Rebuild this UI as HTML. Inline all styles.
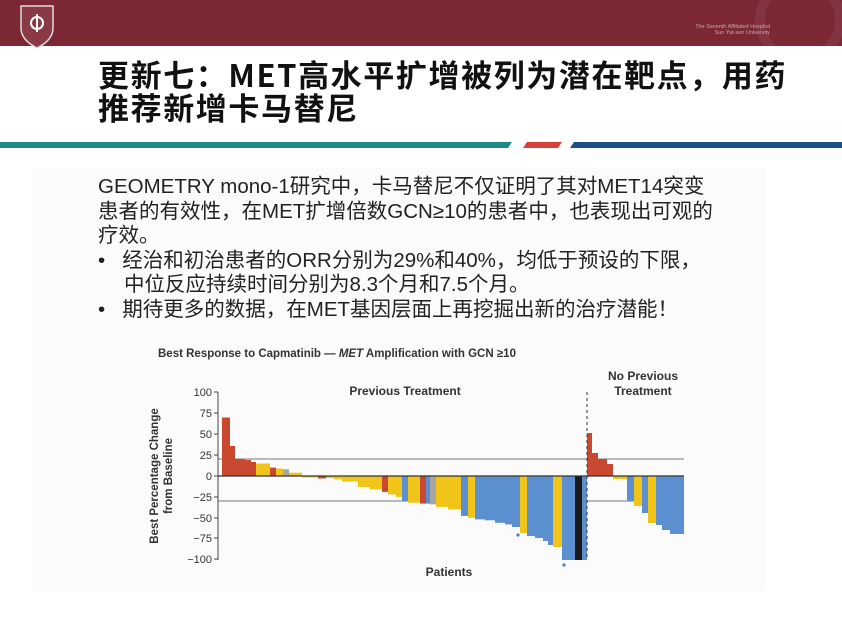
<!DOCTYPE html>
<html><head><meta charset="utf-8"><style>
body{margin:0;width:842px;height:630px;overflow:hidden;background:#fff;position:relative;font-family:"Liberation Sans","Noto Sans CJK SC",sans-serif}
.hdr{position:absolute;left:0;top:0;width:842px;height:46px;background:#7b2834}
.t{position:absolute;left:98px;font-weight:bold;font-size:31px;line-height:36px;color:#111;font-family:"Noto Sans CJK SC","WenQuanYi Zen Hei",sans-serif;white-space:nowrap;letter-spacing:1.6px}
.b{position:absolute;font-size:20.5px;line-height:24px;color:#222;white-space:nowrap;font-family:"Liberation Sans","Noto Sans CJK SC",sans-serif}
</style></head><body>
<div class="hdr"></div>
<svg style="position:absolute;left:0;top:0" width="842" height="160">
<defs><clipPath id="c"><rect x="0" y="0" width="842" height="46"/></clipPath></defs>
<path d="M21 6 h32 v22 q0 12 -16 20 q-16 -8 -16 -20z" fill="#8a3a44" stroke="#ddd" stroke-width="1.5"/>
<circle cx="37" cy="23" r="6" fill="none" stroke="#fff" stroke-width="2"/><line x1="37" y1="14" x2="37" y2="32" stroke="#fff" stroke-width="2"/>
<g clip-path="url(#c)"><circle cx="800" cy="20" r="40" fill="none" stroke="#843340" stroke-width="10"/></g>
<text x="770" y="28" text-anchor="end" font-size="5.5" fill="#c9a5aa" font-family="Liberation Sans">The Seventh Affiliated Hospital</text>
<text x="770" y="34" text-anchor="end" font-size="5.5" fill="#c9a5aa" font-family="Liberation Sans">Sun Yat-sen University</text>
<polygon points="0,142 512,142 508,148 0,148" fill="#1f8a8a"/>
<polygon points="527,142 562,142 558,148 523,148" fill="#d8403b"/>
<polygon points="574,142 842,142 842,148 570,148" fill="#1d4f82"/>
</svg>
<div class="t" style="top:56px">更新七：MET高水平扩增被列为潜在靶点，用药</div>
<div class="t" style="top:89px">推荐新增卡马替尼</div>
<div style="position:absolute;left:32px;top:168px;width:733px;height:423px;background:#fbfbfb"></div>
<div class="b" style="left:98px;top:175px">GEOMETRY mono-1研究中，卡马替尼不仅证明了其对MET14突变</div>
<div class="b" style="left:98px;top:200px">患者的有效性，在MET扩增倍数GCN≥10的患者中，也表现出可观的</div>
<div class="b" style="left:98px;top:224px">疗效。</div>
<div class="b" style="left:98px;top:249px">•&nbsp;&nbsp;&nbsp;经治和初治患者的ORR分别为29%和40%，均低于预设的下限，</div>
<div class="b" style="left:124px;top:273px">中位反应持续时间分别为8.3个月和7.5个月。</div>
<div class="b" style="left:98px;top:298px">•&nbsp;&nbsp;&nbsp;期待更多的数据，在MET基因层面上再挖掘出新的治疗潜能！</div>
<svg style="position:absolute;left:0;top:0" width="842" height="630" font-family="Liberation Sans" >
<text x="158" y="357" font-size="11.5" font-weight="bold" fill="#333">Best Response to Capmatinib — <tspan font-style="italic">MET</tspan> Amplification with GCN ≥10</text>
<text x="405" y="395" text-anchor="middle" font-size="12" font-weight="bold" fill="#333">Previous Treatment</text>
<text x="643" y="380" text-anchor="middle" font-size="12" font-weight="bold" fill="#333">No Previous</text>
<text x="643" y="395" text-anchor="middle" font-size="12" font-weight="bold" fill="#333">Treatment</text>
<text x="449" y="576" text-anchor="middle" font-size="12" font-weight="bold" fill="#333">Patients</text>
<text transform="translate(158,476) rotate(-90)" text-anchor="middle" font-size="11.5" font-weight="bold" fill="#333">Best Percentage Change</text>
<text transform="translate(172,476) rotate(-90)" text-anchor="middle" font-size="11.5" font-weight="bold" fill="#333">from Baseline</text>
<g font-size="11" fill="#333" text-anchor="end">
<text x="212" y="396">100</text><text x="212" y="417">75</text><text x="212" y="438">50</text><text x="212" y="459">25</text><text x="212" y="480">0</text><text x="212" y="501">−25</text><text x="212" y="522">−50</text><text x="212" y="542">−75</text><text x="212" y="563">−100</text>
</g>
<g stroke="#444" stroke-width="1">
<line x1="218" y1="392" x2="218" y2="560"/>
<line x1="214" y1="392" x2="218" y2="392"/><line x1="214" y1="413" x2="218" y2="413"/><line x1="214" y1="434" x2="218" y2="434"/><line x1="214" y1="455" x2="218" y2="455"/><line x1="214" y1="476" x2="218" y2="476"/><line x1="214" y1="497" x2="218" y2="497"/><line x1="214" y1="518" x2="218" y2="518"/><line x1="214" y1="538" x2="218" y2="538"/><line x1="214" y1="559" x2="218" y2="559"/>
</g>
<g stroke="#777" stroke-width="1"><line x1="218" y1="459" x2="684" y2="459"/><line x1="218" y1="501" x2="684" y2="501"/></g>
<g>
<rect x="222" y="417.5" width="8" height="58.5" fill="#c8492f"/>
<rect x="230" y="446" width="5" height="30" fill="#c8492f"/>
<rect x="235" y="459.3" width="10" height="16.7" fill="#c8492f"/>
<rect x="245" y="460" width="6" height="16" fill="#c8492f"/>
<rect x="251" y="462" width="5" height="14" fill="#c8492f"/>
<rect x="256" y="463.5" width="14" height="12.5" fill="#f1c41a"/>
<rect x="270" y="467.6" width="6" height="8.4" fill="#c8492f"/>
<rect x="276" y="468.5" width="7" height="7.5" fill="#f1c41a"/>
<rect x="283" y="469.3" width="6" height="6.7" fill="#a6a6a6"/>
<rect x="289" y="472.7" width="13" height="3.3" fill="#f1c41a"/>
<rect x="302" y="476" width="16" height="1.5" fill="#f1c41a"/>
<rect x="318" y="476" width="8" height="2.5" fill="#c8492f"/>
<rect x="326" y="476" width="8" height="2" fill="#f1c41a"/>
<rect x="334" y="476" width="8" height="3.4" fill="#f1c41a"/>
<rect x="342" y="476" width="16" height="5.5" fill="#f1c41a"/>
<rect x="358" y="476" width="12" height="11" fill="#f1c41a"/>
<rect x="370" y="476" width="12" height="13.4" fill="#f1c41a"/>
<rect x="382" y="476" width="6" height="15.9" fill="#c8492f"/>
<rect x="388" y="476" width="8" height="18.4" fill="#f1c41a"/>
<rect x="396" y="476" width="6" height="20.9" fill="#f1c41a"/>
<rect x="402" y="476" width="6" height="25" fill="#5b8fd0"/>
<rect x="408" y="476" width="12" height="26.7" fill="#f1c41a"/>
<rect x="420" y="476" width="6" height="27.6" fill="#c8492f"/>
<rect x="426" y="476" width="4" height="27.6" fill="#5b8fd0"/>
<rect x="430" y="476" width="6" height="28.4" fill="#a6a6a6"/>
<rect x="436" y="476" width="12" height="30.9" fill="#f1c41a"/>
<rect x="448" y="476" width="13" height="33.4" fill="#f1c41a"/>
<rect x="461" y="476" width="7" height="40" fill="#5b8fd0"/>
<rect x="468" y="476" width="7" height="41.8" fill="#f1c41a"/>
<rect x="475" y="476" width="10" height="43.4" fill="#5b8fd0"/>
<rect x="485" y="476" width="10" height="44.3" fill="#5b8fd0"/>
<rect x="495" y="476" width="10" height="46.8" fill="#5b8fd0"/>
<rect x="505" y="476" width="7" height="48.4" fill="#5b8fd0"/>
<rect x="512" y="476" width="8" height="51" fill="#5b8fd0"/>
<rect x="520" y="476" width="7" height="57" fill="#f1c41a"/>
<rect x="527" y="476" width="8" height="60" fill="#5b8fd0"/>
<rect x="535" y="476" width="8" height="62" fill="#5b8fd0"/>
<rect x="543" y="476" width="5" height="65" fill="#5b8fd0"/>
<rect x="548" y="476" width="5" height="69" fill="#5b8fd0"/>
<rect x="553" y="476" width="9" height="71" fill="#f1c41a"/>
<rect x="562" y="476" width="13" height="84" fill="#5b8fd0"/>
<rect x="575" y="476" width="7" height="84" fill="#1a1a1a"/>
<rect x="582" y="476" width="5" height="84" fill="#5b8fd0"/>
<rect x="587" y="433" width="5" height="43" fill="#c8492f"/>
<rect x="592" y="453" width="6" height="23" fill="#c8492f"/>
<rect x="598" y="459" width="9" height="17" fill="#c8492f"/>
<rect x="607" y="464" width="6" height="12" fill="#c8492f"/>
<rect x="613" y="476" width="14" height="3" fill="#f1c41a"/>
<rect x="627" y="476" width="7" height="25" fill="#5b8fd0"/>
<rect x="634" y="476" width="8" height="30" fill="#f1c41a"/>
<rect x="642" y="476" width="6" height="37" fill="#5b8fd0"/>
<rect x="648" y="476" width="8" height="47" fill="#f1c41a"/>
<rect x="656" y="476" width="6" height="49" fill="#5b8fd0"/>
<rect x="662" y="476" width="8" height="54" fill="#5b8fd0"/>
<rect x="670" y="476" width="14" height="58" fill="#5b8fd0"/>
</g>
<line x1="218" y1="476" x2="684" y2="476" stroke="#333" stroke-width="1.3"/>
<line x1="587" y1="392" x2="587" y2="560" stroke="#333" stroke-width="1" stroke-dasharray="3,3"/>
<circle cx="518" cy="535" r="1.6" fill="#4a7cc0"/>
<circle cx="564" cy="565" r="1.6" fill="#4a7cc0"/>
</svg>
</body></html>
